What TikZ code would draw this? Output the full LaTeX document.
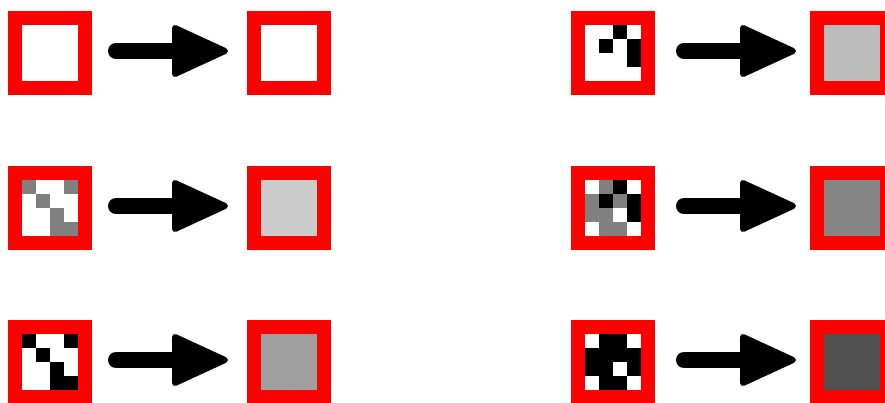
\documentclass[tikz,border=0pt]{standalone}
\usetikzlibrary{calc}
\definecolor{boxred}{HTML}{FF0000}
\definecolor{halfgray}{HTML}{808080}
\definecolor{outA}{HTML}{FFFFFF}
\definecolor{outB}{HTML}{CCCCCC}
\definecolor{outC}{HTML}{9F9F9F}
\definecolor{outD}{HTML}{BBBBBB}
\definecolor{outE}{HTML}{858585}
\definecolor{outF}{HTML}{505050}
\newcommand\pixcell[4]{\fill[#4] ($(#1.center)+(-28+14*#2,-28+14*#3)$) rectangle ++(14,14);}
% #1 from, #2 to, #3 horizontal shift
\newcommand\bigarrow[3]{%
  \draw[shaft] ($(#1.east)+(24+#3,-2)$) -- ($(#2.west)+(-66+#3,-2)$);
  \filldraw[arrowhead] ($(#2.west)+(-72+#3,-25)$) -- ($(#2.west)+(-22+#3,-2)$) -- ($(#2.west)+(-72+#3,21)$) -- cycle;}
\begin{document}
\begin{tikzpicture}[x=1pt,y=-1pt,
  cellbox/.style={draw=boxred, line width=14pt, minimum size=70pt, inner sep=0pt, outer sep=7pt},
  shaft/.style={black, line width=16pt, line cap=round},
  arrowhead/.style={fill=black, draw=black, line width=6pt, line join=round}]
\clip (0,0) rectangle (885,402);
\fill[white] (0,0) rectangle (885,402);
% left column
\node[cellbox, fill=white] (a1) at (50,53) {};
\node[cellbox, fill=outA] (b1) at (289,53) {};
\node[cellbox, fill=white] (a2) at (50,208) {};
\node[cellbox, fill=outB] (b2) at (289,208) {};
\node[cellbox, fill=white] (a3) at (50,362) {};
\node[cellbox, fill=outC] (b3) at (289,362) {};
% right column
\node[cellbox, fill=white] (c1) at (613,53) {};
\node[cellbox, fill=outD] (d1) at (852,53) {};
\node[cellbox, fill=white] (c2) at (613,208) {};
\node[cellbox, fill=outE] (d2) at (852,208) {};
\node[cellbox, fill=white] (c3) at (613,362) {};
\node[cellbox, fill=outF] (d3) at (852,362) {};
% patterns
\foreach \c/\r in {0/0,3/0,1/1,2/2,2/3,3/3} {\pixcell{a2}{\c}{\r}{halfgray}}
\foreach \c/\r in {0/0,3/0,1/1,2/2,2/3,3/3} {\pixcell{a3}{\c}{\r}{black}}
\foreach \c/\r in {2/0,1/1,3/1,3/2} {\pixcell{c1}{\c}{\r}{black}}
\foreach \c/\r in {1/0,0/1,2/1,0/2,1/2,1/3,2/3} {\pixcell{c2}{\c}{\r}{halfgray}}
\foreach \c/\r in {2/0,1/1,3/1,3/2} {\pixcell{c2}{\c}{\r}{black}}
\foreach \c/\r in {1/0,2/0,0/1,1/1,2/1,3/1,0/2,1/2,3/2,1/3,2/3} {\pixcell{c3}{\c}{\r}{black}}
% arrows
\bigarrow{a1}{b1}{0}
\bigarrow{a2}{b2}{0}
\bigarrow{a3}{b3}{0}
\bigarrow{c1}{d1}{5}
\bigarrow{c2}{d2}{5}
\bigarrow{c3}{d3}{5}
\end{tikzpicture}
\end{document}
